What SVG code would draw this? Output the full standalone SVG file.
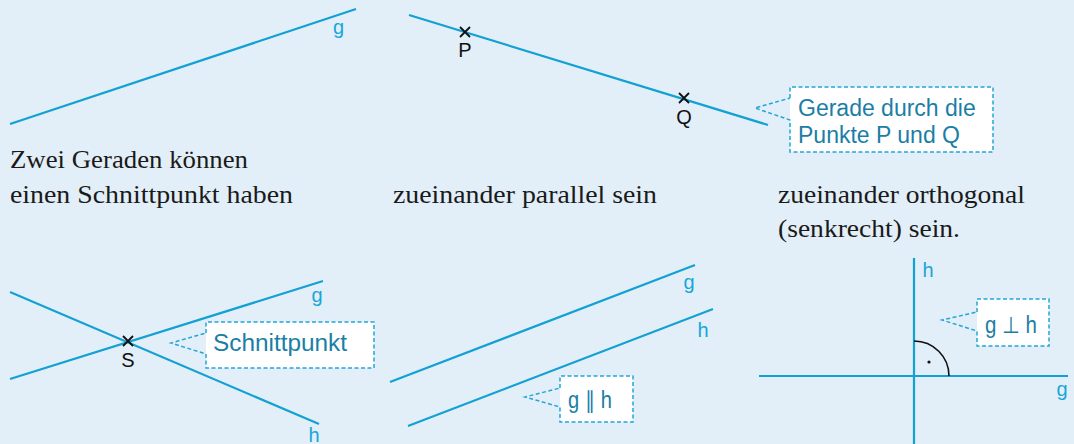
<svg xmlns="http://www.w3.org/2000/svg" width="1074" height="444" viewBox="0 0 1074 444">
<style>
.ln{stroke:#13a1d3;stroke-width:2.2;fill:none;stroke-linecap:butt}
.cr{stroke:#111;stroke-width:1.8;fill:none}
.cb{fill:#fff;stroke:none}
.cd{fill:none;stroke:#22a6d6;stroke-width:1.5;stroke-dasharray:4 2.5}
.ct{font-family:"Liberation Sans","Roboto",sans-serif;font-size:23px;fill:#1a7ea6}
.lb{font-family:"Liberation Sans","Roboto",sans-serif;font-size:20px;fill:#19a6d8}
.pt{font-family:"Liberation Sans","Roboto",sans-serif;font-size:20px;fill:#111}
.sr{font-family:"Liberation Serif","Times New Roman",serif;font-size:24.5px;fill:#1a1a1a}
</style>
<rect width="1074" height="444" fill="#e2eff8"/>
<g id="connectors">
<line class="ln" x1="10" y1="124" x2="356" y2="9"/>
<line class="ln" x1="409" y1="15" x2="768" y2="125"/>
<line class="ln" x1="10" y1="379" x2="323" y2="281"/>
<line class="ln" x1="10" y1="292" x2="319" y2="424"/>
<line class="ln" x1="390" y1="382" x2="695" y2="265"/>
<line class="ln" x1="408" y1="426" x2="713" y2="309"/>
<line class="ln" x1="914" y1="258" x2="914" y2="444"/>
<line class="ln" x1="759" y1="376" x2="1068" y2="376"/>
<path d="M914 341 A35 35 0 0 1 949 376" fill="none" stroke="#111" stroke-width="1.6"/>
<circle cx="929" cy="362" r="1.6" fill="#111"/>
</g>
<g id="label-g1"><text class="lb" x="333" y="34">g</text></g>
<g id="point-P">
<path class="cr" d="M460 27L470 37M470 27L460 37"/>
<text class="pt" x="465" y="57" text-anchor="middle">P</text>
</g>
<g id="point-Q">
<path class="cr" d="M679 93L689 103M689 93L679 103"/>
<text class="pt" x="684" y="124" text-anchor="middle">Q</text>
</g>
<g id="callout-gerade">
<rect class="cb" x="790" y="87" width="203" height="65"/>
<path class="cd" d="M790 98V87H993V152H790V120L755 108L790 98"/>
<text class="ct" x="798" y="116">Gerade durch die</text>
<text class="ct" x="798" y="143">Punkte P und Q</text>
</g>
<g id="text-1">
<text class="sr" x="10" y="168" textLength="238" lengthAdjust="spacingAndGlyphs">Zwei Geraden können</text>
<text class="sr" x="10" y="203" textLength="283" lengthAdjust="spacingAndGlyphs">einen Schnittpunkt haben</text>
</g>
<g id="text-2">
<text class="sr" x="393" y="203" textLength="264" lengthAdjust="spacingAndGlyphs">zueinander parallel sein</text>
</g>
<g id="text-3">
<text class="sr" x="778" y="203" textLength="247" lengthAdjust="spacingAndGlyphs">zueinander orthogonal</text>
<text class="sr" x="778" y="237" textLength="182" lengthAdjust="spacingAndGlyphs">(senkrecht) sein.</text>
</g>
<g id="point-S">
<path class="cr" d="M123 336L133 346M133 336L123 346"/>
<text class="pt" x="128" y="367" text-anchor="middle">S</text>
</g>
<g id="labels-intersect">
<text class="lb" x="317" y="302" text-anchor="middle">g</text>
<text class="lb" x="314" y="442" text-anchor="middle">h</text>
</g>
<g id="callout-schnittpunkt">
<rect class="cb" x="206" y="322" width="168" height="46"/>
<path class="cd" d="M206 333V322H374V368H206V354L171 343L206 333"/>
<text class="ct" x="213" y="351" textLength="134" lengthAdjust="spacingAndGlyphs">Schnittpunkt</text>
</g>
<g id="labels-parallel">
<text class="lb" x="689" y="289" text-anchor="middle">g</text>
<text class="lb" x="703" y="337" text-anchor="middle">h</text>
</g>
<g id="callout-parallel">
<rect class="cb" x="560" y="376" width="73" height="46"/>
<path class="cd" d="M560 388V376H633V422H560V407L525 397L560 388"/>
<text class="ct" x="568" y="408" textLength="44" lengthAdjust="spacingAndGlyphs">g ∥ h</text>
</g>
<g id="labels-orth">
<text class="lb" x="928" y="277" text-anchor="middle">h</text>
<text class="lb" x="1062" y="396" text-anchor="middle">g</text>
</g>
<g id="callout-orth">
<rect class="cb" x="977" y="299" width="72" height="47"/>
<path class="cd" d="M977 312V299H1049V346H977V331L942 320L977 312"/>
<text class="ct" x="985" y="333" textLength="52" lengthAdjust="spacingAndGlyphs">g ⊥ h</text>
</g>
</svg>
